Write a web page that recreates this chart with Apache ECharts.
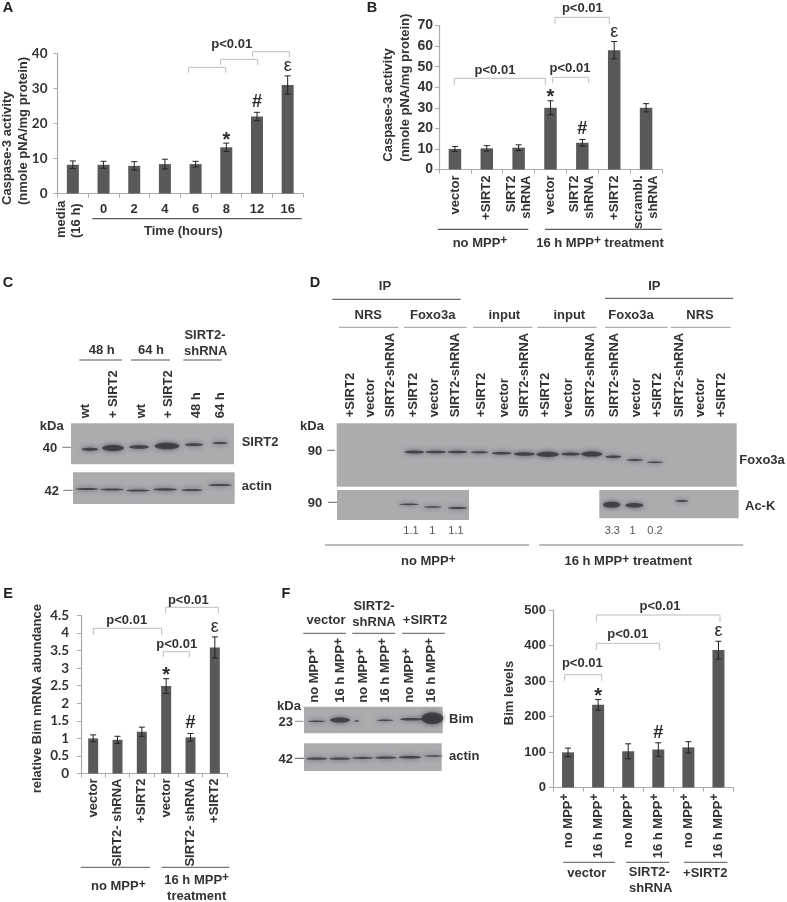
<!DOCTYPE html>
<html><head><meta charset="utf-8">
<style>html,body{margin:0;padding:0;background:#fff}#c{width:787px;height:902px}</style>
<script src="https://cdn.jsdelivr.net/npm/echarts@6/dist/echarts.min.js"></script>
</head><body><div id="c"></div>
<script>
// ---- chart data ----
const catsA = ['', '0', '2', '4', '6', '8', '12', '16'];
const valsA = [8.2, 8.2, 7.9, 8.4, 8.4, 13.2, 22, 31];
const errsA = [1.1, 1.0, 1.2, 1.4, 0.8, 1.2, 1.2, 2.6];
const marksA = ['', '', '', '', '', '*', '#', 'ε'];

const catsB = ['vector', '+SIRT2', 'SIRT2\nshRNA', 'vector', 'SIRT2\nshRNA', '+SIRT2', 'scrambl.\nshRNA'];
const valsB = [10, 10.3, 10.6, 30, 13, 58, 30];
const errsB = [1.2, 1.3, 1.4, 3.4, 1.6, 4.2, 2.0];
const marksB = ['', '', '', '*', '#', 'ε', ''];

const catsE = ['vector', 'SIRT2- shRNA', '+SIRT2', 'vector', 'SIRT2- shRNA', '+SIRT2'];
const valsE = [1, 0.96, 1.19, 2.49, 1.03, 3.59];
const errsE = [0.1, 0.1, 0.13, 0.21, 0.11, 0.3];
const marksE = ['', '', '', '*', '#', 'ε'];

const catsF = ['no MPP+', '16 h MPP+', 'no MPP+', '16 h MPP+', 'no MPP+', '16 h MPP+'];
const valsF = [99, 233, 102, 107, 113, 387];
const errsF = [12, 15, 21, 19, 16, 25];
const marksF = ['', '*', '', '#', '', 'ε'];

const lanesC = ['wt', '+ SIRT2', 'wt', '+ SIRT2', '48 h', '64 h'];
const lanesD = ['+SIRT2','vector','SIRT2-shRNA','+SIRT2','vector','SIRT2-shRNA','+SIRT2','vector','SIRT2-shRNA','+SIRT2','vector','SIRT2-shRNA','SIRT2-shRNA','vector','+SIRT2','SIRT2-shRNA','vector','+SIRT2'];
const lanesF = ['no MPP+', '16 h MPP+', 'no MPP+', '16 h MPP+', 'no MPP+', '16 h MPP+'];
const ratiosDLeft = ['1.1', '1', '1.1'];
const ratiosDRight = ['3.3', '1', '0.2'];

// ---- styling helpers ----
const ARIAL = '"Liberation Sans", Arial, sans-serif';
const LATO = 'Lato, sans-serif';
const INK = '#333';
const BAR = '#595959';
const AXIS = '#ababab';
const BRACKET = '#bdbdbd';
const BLOT = '#aaacae';
const supRich = { s: { fontSize: 12, fontWeight: 'bold', fontFamily: ARIAL, fill: INK, color: INK, padding: [0, 0, 5, 0], verticalAlign: 'bottom' } };
const sup = t => t.replace('MPP+', 'MPP{s|+}');

const g = [];
function txt(t, x, y, o) {
  o = o || {};
  const size = o.size || 13;
  g.push({ type: 'text', x, y, rotation: o.rot ? Math.PI / 2 : 0, z: 20,
    style: { text: sup(t), fill: o.fill || INK, rich: supRich,
      font: (o.weight || 'bold') + ' ' + size + 'px ' + (o.family || ARIAL),
      textAlign: o.align || 'center', textVerticalAlign: 'middle' } });
}
function vtxt(t, x, y, o) { txt(t, x, y, Object.assign({ rot: true, align: 'left' }, o || {})); }
function hline(x1, x2, y, color, w) {
  g.push({ type: 'line', z: 15, shape: { x1, y1: y, x2, y2: y }, style: { stroke: color || '#555', lineWidth: w || 1 } });
}
function bracket(x1, x2, y, y2) {
  g.push({ type: 'polyline', z: 15, shape: { points: [[x1, y2], [x1, y], [x2, y], [x2, y2]] }, style: { stroke: BRACKET, lineWidth: 1, fill: 'none' } });
}
function blot(x1, y1, x2, y2, fill) {
  g.push({ type: 'rect', z: 5, shape: { x: x1, y: y1, width: x2 - x1, height: y2 - y1 }, style: { fill: fill || BLOT } });
}
function band(cx, cy, w, h, color) {
  const c = color || '#333337';
  g.push({ type: 'ellipse', z: 6, shape: { cx, cy, rx: w / 2, ry: Math.max(h / 2 - 0.4, 0.8) }, style: { fill: c, shadowBlur: 5, shadowColor: c, opacity: 0.78 } });
}
function bandsZoom(ox, oy, list) { list.forEach(b => band(ox + b[0] / 3, oy + b[1] / 3, b[2] / 3, b[3] / 3)); }

// ---- panel letters ----
[['A', 8, 8], ['B', 372, 8], ['C', 8, 283], ['D', 315, 283], ['E', 8, 594], ['F', 286, 594]].forEach(p => txt(p[0], p[1], p[2], { size: 14.5, fill: '#222' }));

// ---- panel A annotations ----
vtxt('Caspase-3 activity', 7.5, 205);
vtxt('(nmole pNA/mg protein)', 23, 205);
vtxt('media', 61, 238);
vtxt('(16 h)', 76, 238);
hline(92.3, 301.7, 218.7, '#333');
txt('Time (hours)', 183.3, 231.7);
txt('p<0.01', 231.7, 44);
bracket(188.7, 225.7, 67.3, 72.7);
bracket(220.7, 257.7, 59.3, 65);
bracket(252.7, 289.3, 51.7, 57.3);

// ---- panel B annotations ----
vtxt('Caspase-3 activity', 388, 161.7);
vtxt('(nmole pNA/mg protein)', 405, 161.7);
hline(437.7, 528.3, 229.3, '#333');
hline(545, 661.7, 229.3, '#333');
txt('no MPP+', 480, 243);
txt('16 h MPP+ treatment', 600, 243);
txt('p<0.01', 582.3, 8.3);
bracket(555, 609.3, 17.3, 24);
txt('p<0.01', 495, 70);
bracket(454.3, 545.3, 78.3, 85);
txt('p<0.01', 570, 68.3);
bracket(552.7, 588.7, 77.3, 83.3);

// ---- panel C blot ----
blot(71, 423.3, 234, 464.3);
blot(73, 472.3, 234.7, 504);
[[90,449.3,17,4],[113,448,22,7],[139,447,20,4.5],[167,446,25,7.5],[194,444.7,18,3.5],[220,443,16,3]].forEach(b => band(b[0], b[1], b[2], b[3]));
[[87,489,24,3],[112,489.5,24,3],[138,490.5,24,3],[165,489.5,24,3.2],[192,490,22,3],[220,485,24,3]].forEach(b => band(b[0], b[1], b[2], b[3]));
txt('48 h', 101.7, 350);
txt('64 h', 151, 350);
txt('SIRT2-', 205, 335.7);
txt('shRNA', 205.7, 351);
hline(79.3, 121.7, 360, '#555');
hline(131, 170, 360, '#555');
hline(183.3, 221.7, 360, '#555');
[85, 113.3, 141.7, 168.3, 196.7, 220].forEach((x, i) => vtxt(lanesC[i], x, 418.3));
txt('kDa', 51.7, 426.7);
txt('40', 50, 448.3);
hline(62.3, 71, 447.3, '#777');
txt('42', 51.7, 491);
hline(63.3, 72.7, 490.3, '#777');
txt('SIRT2', 241.7, 442.7, { align: 'left' });
txt('actin', 241.7, 486.7, { align: 'left' });

// ---- panel D blot ----
blot(336.7, 423.3, 736.7, 486.7);
blot(337, 490, 469, 520);
blot(599.3, 490, 738.7, 518.3);
bandsZoom(320, 270, [[283,546,60,12],[347,546,62,10],[412,546,60,10],[478,547,55,9],[545,550,60,10],[613,552,64,13],[683,553,68,18],[752,552,58,12],[815,552,64,18],[880,560,48,10],[945,570,50,8],[1005,577,50,6]]);
bandsZoom(320, 270, [[267,703,60,8],[338,711,55,7],[413,714,60,9],[875,704,52,20],[943,706,55,16],[1085,693,40,8]]);
txt('IP', 385, 286);
hline(332.3, 460.7, 299.3, '#444');
txt('IP', 654.3, 286);
hline(605, 733.3, 298.3, '#444');
[['NRS', 368.3], ['Foxo3a', 432.7], ['input', 504.3], ['input', 569.3], ['Foxo3a', 631], ['NRS', 700]].forEach(h => txt(h[0], h[1], 315));
[[57,235],[252,440],[459,637],[652,830],[855,1043],[1053,1232]].forEach(s => hline(320 + s[0] / 3, 320 + s[1] / 3, 327.3, '#999'));
[90,152,210,280,342,405,485,552,612,677,745,810,882,948,1013,1078,1140,1205].forEach((x, i) => vtxt(lanesD[i], 320 + x / 3, 417.3));
[273, 337, 408].forEach((x, i) => txt(ratiosDLeft[i], 320 + x / 3, 530.7, { size: 11, weight: 'normal', fill: '#555' }));
[877, 938, 1005].forEach((x, i) => txt(ratiosDRight[i], 320 + x / 3, 530.7, { size: 11, weight: 'normal', fill: '#555' }));
hline(325, 529, 545, '#777');
hline(539.3, 743.3, 545, '#777');
txt('no MPP+', 428.3, 561.7);
txt('16 h MPP+ treatment', 628.3, 561.7);
txt('Foxo3a', 739.3, 460, { align: 'left' });
txt('Ac-K', 745, 506, { align: 'left' });
txt('kDa', 312, 426.5);
txt('90', 315, 451);
hline(327, 335, 450.3, '#666');
txt('90', 315, 503);
hline(328, 337, 502.3, '#666');

// ---- panel E annotations ----
vtxt('relative Bim mRNA abundance', 37.7, 793.3);
hline(80.7, 150, 867.3, '#555');
hline(161.7, 229.3, 867.3, '#555');
txt('no MPP+', 118.3, 886.7);
txt('16 h MPP+', 196.7, 880);
txt('treatment', 196.7, 896);
txt('p<0.01', 188.3, 600.7);
bracket(165.7, 218.3, 607.3, 613.3);
txt('p<0.01', 126.7, 620);
bracket(93.3, 161.7, 628.3, 635);
txt('p<0.01', 176.7, 644.3);
bracket(163.3, 189.3, 651.7, 657.3);

// ---- panel F blot ----
blot(304, 706.7, 442.7, 733.3);
blot(304, 743.3, 441.7, 771);
bandsZoom(250, 580, [[200,424,55,7],[270,420,60,18],[320,423,15,5],[405,421,50,6],[485,418,70,10],[547,415,65,38]]);
bandsZoom(250, 580, [[200,536,65,9],[270,536,65,9],[338,534,65,8],[408,533,65,9],[480,532,68,10],[550,528,55,6]]);
txt('vector', 326, 620.7);
txt('SIRT2-', 374, 606);
txt('shRNA', 374, 622.3);
txt('+SIRT2', 425, 620.7);
hline(303.3, 346, 633.3, '#555');
hline(352.3, 395, 633.3, '#555');
hline(402, 444.7, 633.3, '#555');
[314, 340.7, 363.3, 385, 409.3, 431.7].forEach((x, i) => vtxt(lanesF[i], x, 702.7));
txt('kDa', 289, 706.7);
txt('23', 285.7, 722.7);
hline(295, 303.3, 721.3, '#888');
txt('42', 285.7, 759.3);
hline(295, 304, 758.3, '#555');
txt('Bim', 449, 719.3, { align: 'left' });
txt('actin', 449, 756.7, { align: 'left' });

// ---- panel F bar annotations ----
txt('Bim levels', 509.3, 693, { rot: true });
hline(563.3, 615, 862.3, '#555');
hline(626, 669.3, 862.3, '#555');
hline(684, 727.3, 862.3, '#555');
txt('vector', 586.7, 873.3);
txt('SIRT2-', 649.3, 872.7);
txt('shRNA', 650.7, 888.3);
txt('+SIRT2', 705.3, 873.3);
txt('p<0.01', 660, 606.7);
bracket(596.3, 720, 615, 621.7);
txt('p<0.01', 627.7, 634.3);
bracket(596.3, 659.7, 643.3, 650);
txt('p<0.01', 582.3, 663.3);
bracket(564.7, 601.7, 674.7, 680.7);

// ---- charts ----
const panels = [
  { cats: catsA, vals: valsA, errs: errsA, marks: marksA, rect: [57.5, 53.5, 245.5, 140], max: 40, step: 10, barW: 12, tick: { fontFamily: LATO, fontSize: 13.5, margin: 10 }, rot: 0, margin: 8 },
  { cats: catsB, vals: valsB, errs: errsB, marks: marksB, rect: [439, 25.5, 223, 144], max: 70, step: 10, barW: 12.5, tick: { fontFamily: ARIAL, fontSize: 14, margin: 6 }, rot: 90, margin: 6 },
  { cats: catsE, vals: valsE, errs: errsE, marks: marksE, rect: [81, 615.5, 146, 158], max: 4.5, step: 0.5, barW: 10, tick: { fontFamily: LATO, fontSize: 13.5, margin: 12 }, rot: 90, margin: 5 },
  { cats: catsF, vals: valsF, errs: errsF, marks: marksF, rect: [553, 610, 180.5, 177.5], max: 500, step: 100, barW: 12, tick: { fontFamily: ARIAL, fontSize: 13, margin: 7 }, rot: 90, margin: 6 }
];
const option = {
  animation: false, backgroundColor: '#fff',
  grid: [], xAxis: [], yAxis: [], series: [],
  graphic: { elements: g }
};
panels.forEach((p, i) => {
  option.grid.push({ left: p.rect[0], top: p.rect[1], width: p.rect[2], height: p.rect[3] });
  option.xAxis.push({ type: 'category', gridIndex: i, data: p.cats,
    axisLine: { lineStyle: { color: AXIS, width: 1.2 } },
    axisTick: { show: true, length: 4, lineStyle: { color: AXIS } },
    axisLabel: { interval: 0, rotate: p.rot, margin: p.margin, hideOverlap: false, color: INK, fontFamily: ARIAL, fontWeight: 'bold', fontSize: 13,
      lineHeight: 15, rich: supRich, formatter: v => sup(v) } });
  option.yAxis.push({ type: 'value', gridIndex: i, min: 0, max: p.max, interval: p.step,
    splitLine: { show: false },
    axisLine: { show: true, lineStyle: { color: AXIS, width: 1.2 } },
    axisTick: { show: true, length: 4, lineStyle: { color: AXIS } },
    axisLabel: Object.assign({ color: INK, fontWeight: 'bold' }, p.tick) });
  option.series.push({ type: 'bar', xAxisIndex: i, yAxisIndex: i, data: p.vals, barWidth: p.barW, itemStyle: { color: BAR }, z: 3 });
  option.series.push({ type: 'custom', xAxisIndex: i, yAxisIndex: i, z: 4, clip: false,
    data: p.vals.map((v, k) => [k, v, p.errs[k]]),
    encode: { x: 0, y: 1 },
    renderItem: (params, api) => {
      const k = api.value(0), v = api.value(1), e = api.value(2);
      const top = api.coord([k, v + e]), bot = api.coord([k, v - e]);
      const line = { stroke: '#222', lineWidth: 1 };
      const kids = [
        { type: 'line', shape: { x1: top[0], y1: top[1], x2: bot[0], y2: bot[1] }, style: line },
        { type: 'line', shape: { x1: top[0] - 3, y1: top[1], x2: top[0] + 3, y2: top[1] }, style: line },
        { type: 'line', shape: { x1: bot[0] - 3, y1: bot[1], x2: bot[0] + 3, y2: bot[1] }, style: line }
      ];
      const m = p.marks[k];
      if (m) {
        const st = m === '*' ? 20 : m === '#' ? 18 : 18;
        const dy = m === '*' ? 3 : 10;
        kids.push({ type: 'text', x: top[0], y: top[1] - dy,
          style: { text: m, fill: '#2a2a2a', font: (m === 'ε' ? 'normal ' : 'bold ') + st + 'px ' + ARIAL, textAlign: 'center', textVerticalAlign: 'middle' } });
      }
      return { type: 'group', children: kids };
    } });
});
const chart = echarts.init(document.getElementById('c'), null, { renderer: 'canvas', width: 787, height: 902 });
chart.setOption(option);
</script></body></html>
